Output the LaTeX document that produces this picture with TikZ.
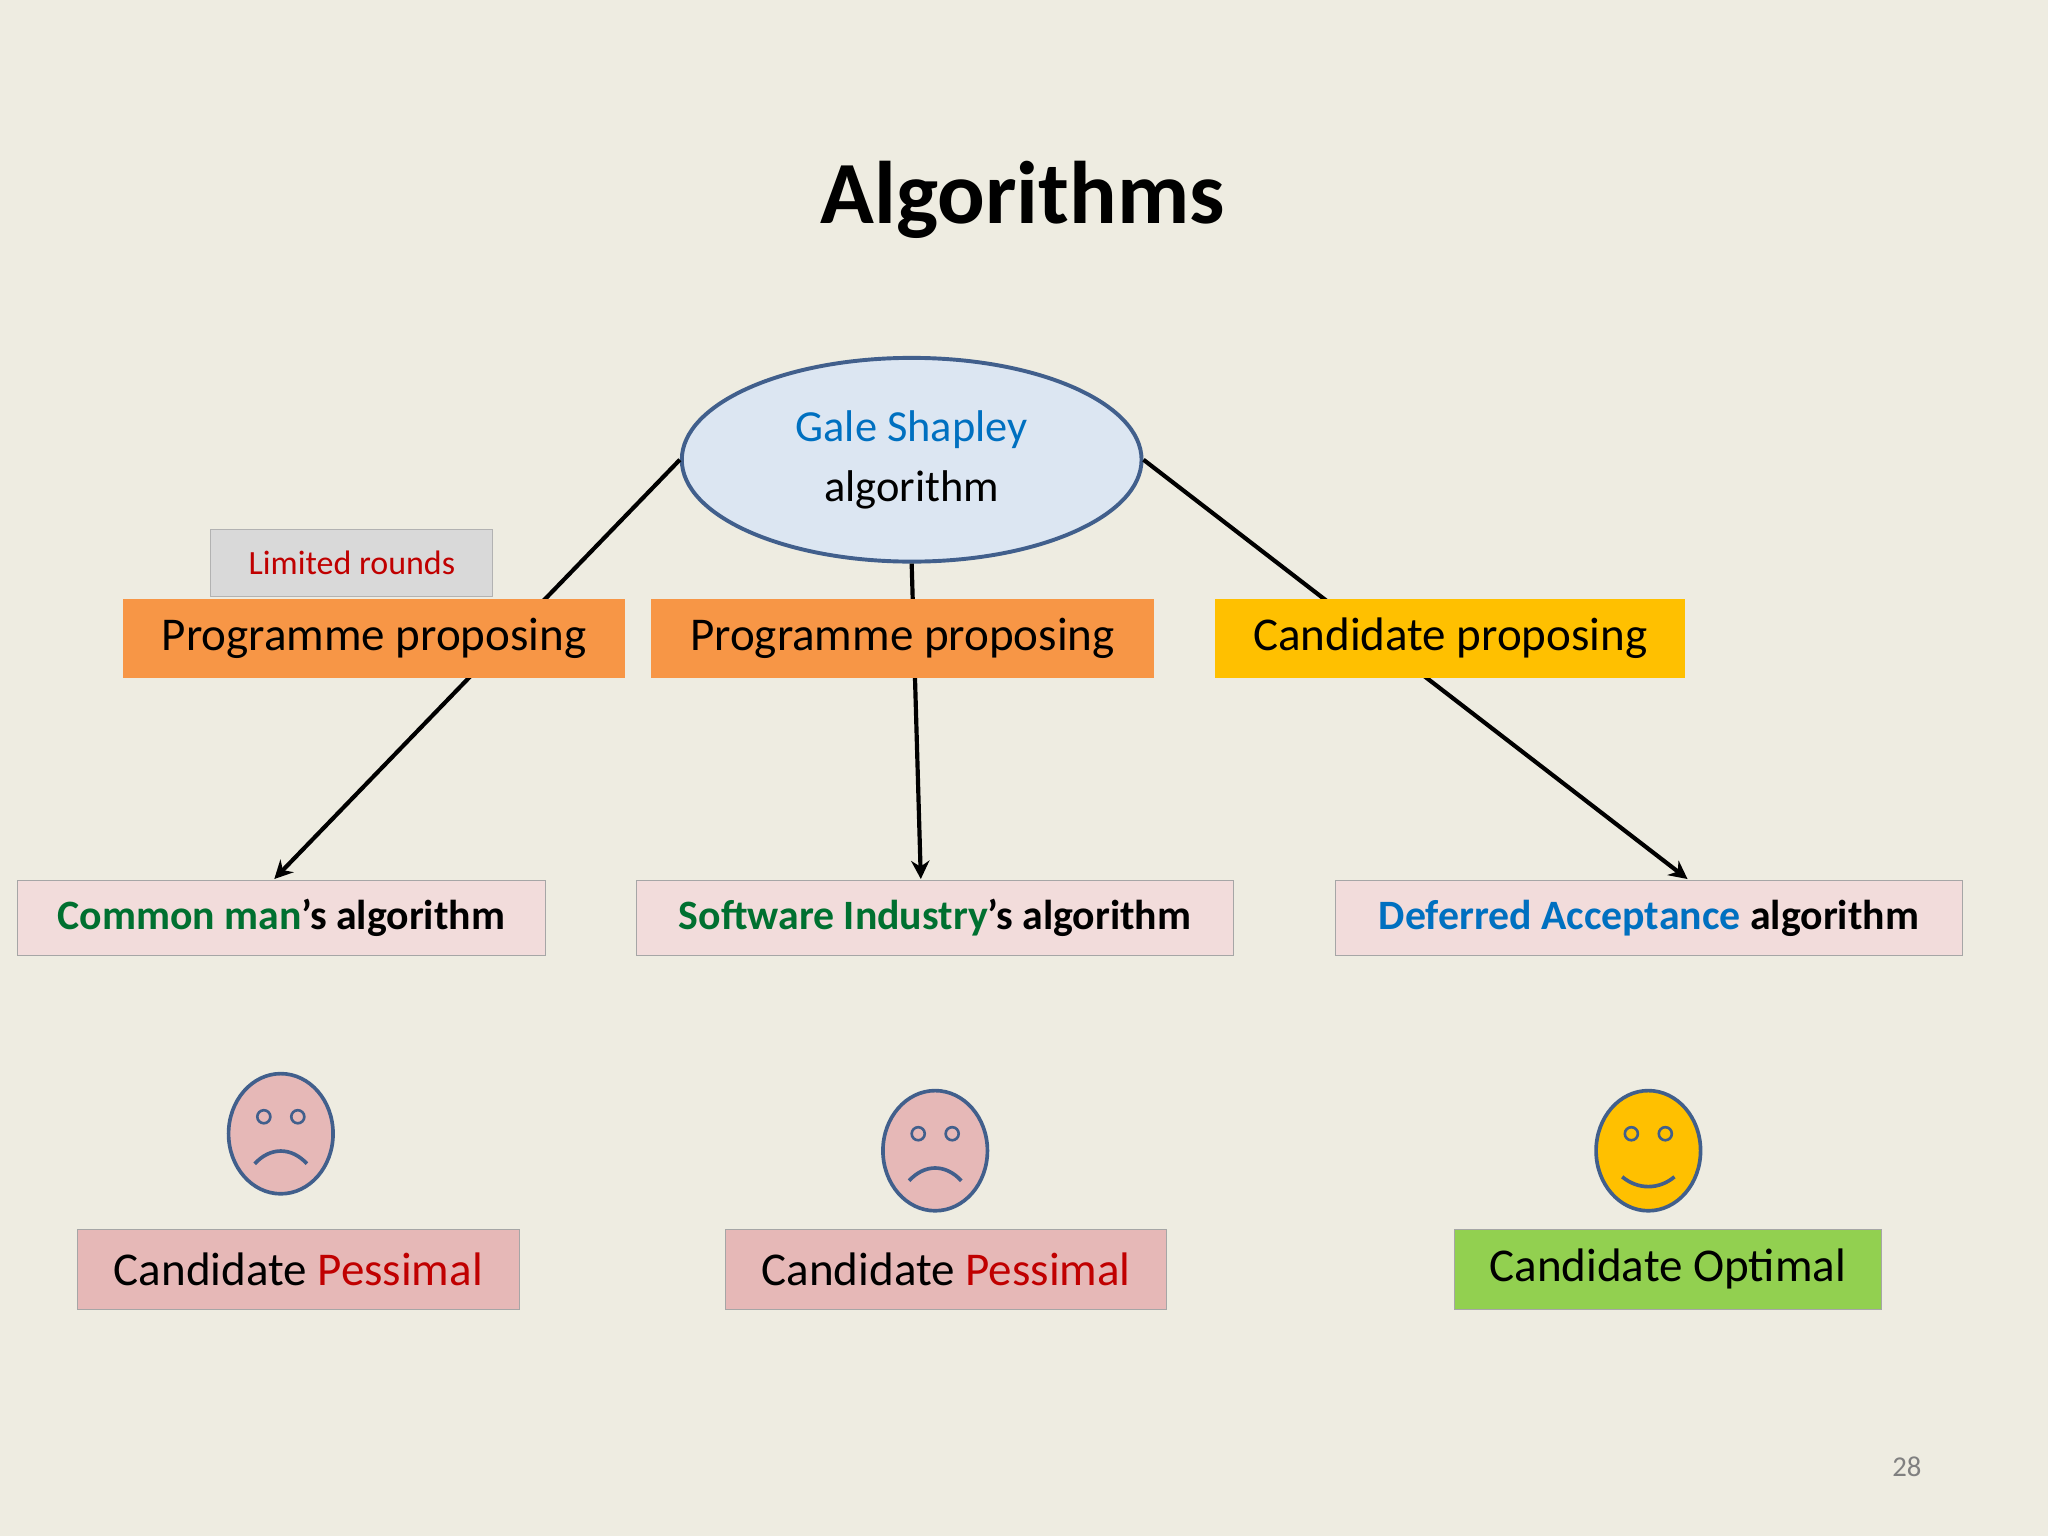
\documentclass[tikz,border=0pt]{standalone}
\usepackage{fontspec}
\setmainfont{Carlito}
\usetikzlibrary{shapes.geometric,arrows.meta}
\definecolor{bg}{RGB}{238,236,225}
\definecolor{ellf}{RGB}{220,230,242}
\definecolor{elld}{RGB}{65,95,140}
\definecolor{org}{RGB}{247,150,70}
\definecolor{gold}{RGB}{255,192,0}
\definecolor{pinkl}{RGB}{242,220,219}
\definecolor{pinkd}{RGB}{230,184,183}
\definecolor{grn}{RGB}{146,208,80}
\definecolor{gtxt}{RGB}{0,112,48}
\definecolor{btxt}{RGB}{0,112,192}
\definecolor{rtxt}{RGB}{192,0,0}
\tikzset{x=0.5pt,y=-0.5pt,
 box/.style={draw=gray!70,line width=0.4pt,inner sep=0,anchor=north west,font=\fontsize{18}{20}\selectfont},
 arr/.style={line width=1.6pt,-{Stealth[length=7pt,width=7pt]}},
 face/.style={draw=elld,line width=1.4pt}}
\begin{document}
\begin{tikzpicture}
\fill[bg] (0,0) rectangle (1568,1176);
\node[font=\fontsize{34}{36}\selectfont\bfseries] (title) at (783,153) {Algorithms};
\node[ellipse,draw=elld,fill=ellf,line width=1.5pt,minimum width=176pt,minimum height=78pt,align=center,font=\fontsize{17}{23}\selectfont] (gs) at (698,352) {\textcolor{btxt}{Gale Shapley}\\algorithm};
% algorithm boxes
\node[box,fill=pinkl,minimum width=202pt,minimum height=28.5pt,font=\fontsize{16}{18}\selectfont\bfseries] (cm) at (13,674) {\textcolor{gtxt}{Common man}’s algorithm};
\node[box,fill=pinkl,minimum width=228.5pt,minimum height=28.5pt,font=\fontsize{16}{18}\selectfont\bfseries] (si) at (487,674) {\textcolor{gtxt}{Software Industry}’s algorithm};
\node[box,fill=pinkl,minimum width=240pt,minimum height=28.5pt,font=\fontsize{16}{18}\selectfont\bfseries] (da) at (1022,674) {\textcolor{btxt}{Deferred Acceptance} algorithm};
\coordinate (t1) at (210,673);
\coordinate (t2) at (705,673);
\coordinate (t3) at (1292,673);
\draw[arr] (gs.west) -- (t1);
\draw[arr] (gs.south) -- (t2);
\draw[arr] (gs.east) -- (t3);
% proposing boxes
\node[box,draw=none,fill=gray!30,draw=gray!60,minimum width=108pt,minimum height=25.5pt,font=\fontsize{13}{15}\selectfont,text=rtxt] (lr) at (161,405) {Limited rounds};
\node[box,draw=none,fill=org,minimum width=192pt,minimum height=30.5pt] (p1) at (94,458) {Programme proposing};
\node[box,draw=none,fill=org,minimum width=192.5pt,minimum height=30.5pt] (p2) at (498,458) {Programme proposing};
\node[box,draw=none,fill=gold,minimum width=180pt,minimum height=30.5pt] (p3) at (930,458) {Candidate proposing};
% faces
\begin{scope}[shift={(215,868)}]
\draw[face,fill=pinkd] (0,0) ellipse (20pt and 23pt);
\draw[face,line width=1pt] (-13,-13) circle (2.5pt) (13,-13) circle (2.5pt);
\draw[face] (-20,23) .. controls (-8,10) and (8,10) .. (20,23);
\end{scope}
\begin{scope}[shift={(716,881)}]
\draw[face,fill=pinkd] (0,0) ellipse (20pt and 23pt);
\draw[face,line width=1pt] (-13,-13) circle (2.5pt) (13,-13) circle (2.5pt);
\draw[face] (-20,23) .. controls (-8,10) and (8,10) .. (20,23);
\end{scope}
\begin{scope}[shift={(1262,881)}]
\draw[face,fill=gold] (0,0) ellipse (20pt and 23pt);
\draw[face,line width=1pt] (-13,-13) circle (2.5pt) (13,-13) circle (2.5pt);
\draw[face] (-20,20) .. controls (-8,30) and (8,30) .. (20,20);
\end{scope}
% result boxes
\node[box,fill=pinkd,minimum width=169pt,minimum height=30.5pt] (r1) at (59,941) {Candidate \textcolor{rtxt}{Pessimal}};
\node[box,fill=pinkd,minimum width=169pt,minimum height=30.5pt] (r2) at (555,941) {Candidate \textcolor{rtxt}{Pessimal}};
\node[box,fill=grn,minimum width=163.5pt,minimum height=30.5pt] (r3) at (1113,941) {Candidate Optimal};
\node[font=\fontsize{11}{13}\selectfont,text=gray] (pg) at (1460,1123) {28};
\end{tikzpicture}
\end{document}
